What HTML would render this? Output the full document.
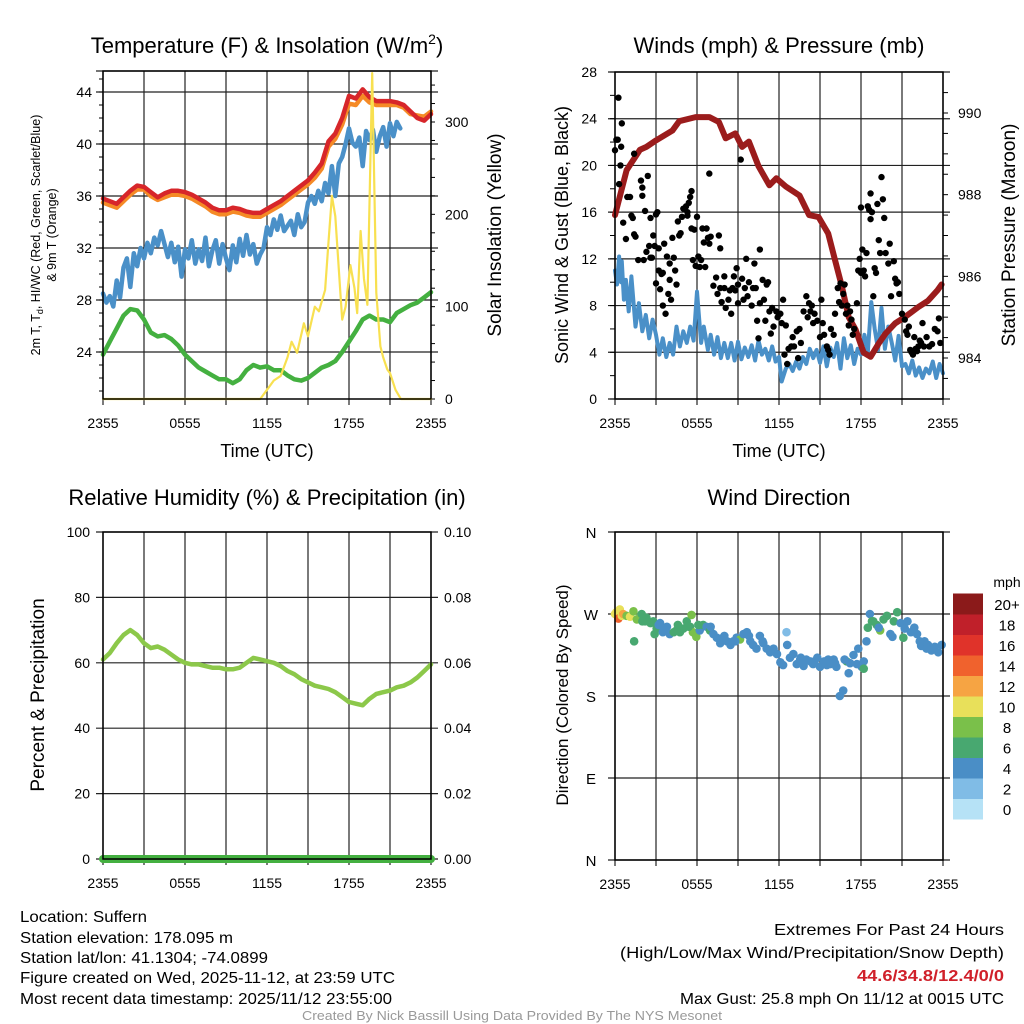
<!DOCTYPE html>
<html><head><meta charset="utf-8"><style>
body{margin:0;background:#fff;width:1024px;height:1024px;overflow:hidden}
svg{display:block;font-family:"Liberation Sans",sans-serif}
</style></head><body>
<svg id="chart" width="1024" height="1024" viewBox="0 0 1024 1024" xmlns="http://www.w3.org/2000/svg">
<text x="267" y="53" font-size="22" text-anchor="middle">Temperature (F) &amp; Insolation (W/m<tspan font-size="14" dy="-9">2</tspan><tspan dy="9">)</tspan></text>
<text x="779" y="53" font-size="22" text-anchor="middle">Winds (mph) &amp; Pressure (mb)</text>
<text x="267" y="505" font-size="22" text-anchor="middle">Relative Humidity (%) &amp; Precipitation (in)</text>
<text x="779" y="505" font-size="22" text-anchor="middle">Wind Direction</text>
<g id="plots"></g>
<g font-size="16">
<text x="20" y="922" textLength="127" lengthAdjust="spacingAndGlyphs">Location: Suffern</text>
<text x="20" y="943" textLength="213" lengthAdjust="spacingAndGlyphs">Station elevation: 178.095 m</text>
<text x="20" y="963" textLength="248" lengthAdjust="spacingAndGlyphs">Station lat/lon: 41.1304; -74.0899</text>
<text x="20" y="983" textLength="375" lengthAdjust="spacingAndGlyphs">Figure created on Wed, 2025-11-12, at 23:59 UTC</text>
<text x="20" y="1004" textLength="372" lengthAdjust="spacingAndGlyphs">Most recent data timestamp: 2025/11/12 23:55:00</text>
<text x="774" y="935" textLength="230" lengthAdjust="spacingAndGlyphs">Extremes For Past 24 Hours</text>
<text x="620" y="958" textLength="384" lengthAdjust="spacingAndGlyphs">(High/Low/Max Wind/Precipitation/Snow Depth)</text>
<text x="857" y="981" textLength="147" lengthAdjust="spacingAndGlyphs" fill="#d0202a" font-weight="bold">44.6/34.8/12.4/0/0</text>
<text x="680" y="1004" textLength="324" lengthAdjust="spacingAndGlyphs">Max Gust: 25.8 mph On 11/12 at 0015 UTC</text>
<text x="302" y="1020" textLength="420" lengthAdjust="spacingAndGlyphs" fill="#999" font-size="13">Created By Nick Bassill Using Data Provided By The NYS Mesonet</text>
</g>
</svg>
<script>
const xTickLabels=["2355","0555","1155","1755","2355"];
const hourTimes=[0,0.5,1,1.5,2,2.5,3,3.5,4,4.5,5,5.5,6,6.5,7,7.5,8,8.5,9,9.5,10,10.5,11,11.5,12,12.5,13,13.5,14,14.5,15,15.5,16,16.5,17,17.5,18,18.5,19,19.5,20,20.5,21,21.5,22,22.5,23,23.5,24];
const temp2m=[35.8,35.6,35.4,35.9,36.4,36.8,36.7,36.3,35.9,36.2,36.4,36.4,36.3,36.1,35.8,35.5,35.1,34.9,34.9,35.1,35.0,34.8,34.7,34.7,35.0,35.3,35.6,36.0,36.4,36.8,37.2,37.8,38.5,40.2,40.8,42.0,43.7,43.5,44.2,43.6,43.3,43.3,43.3,43.2,43.0,42.5,42.0,41.8,42.3];
const temp9m=[35.5,35.3,35.1,35.6,36.1,36.5,36.5,36.0,35.7,35.9,36.1,36.1,36.0,35.8,35.5,35.2,34.8,34.6,34.6,34.8,34.7,34.5,34.4,34.4,34.7,35.0,35.3,35.7,36.1,36.5,36.9,37.4,38.1,39.8,40.4,41.5,43.1,43.0,43.7,43.2,43.0,43.0,43.0,43.0,42.8,42.3,42.2,42.1,42.5];
const windChillTimes=[0,0.25,0.5,0.75,1,1.25,1.5,1.75,2,2.25,2.5,2.75,3,3.25,3.5,3.75,4,4.25,4.5,4.75,5,5.25,5.5,5.75,6,6.25,6.5,6.75,7,7.25,7.5,7.75,8,8.25,8.5,8.75,9,9.25,9.5,9.75,10,10.25,10.5,10.75,11,11.25,11.5,11.75,12,12.25,12.5,12.75,13,13.25,13.5,13.75,14,14.25,14.5,14.75,15,15.25,15.5,15.75,16,16.25,16.5,16.75,17,17.25,17.5,17.75,18,18.25,18.5,18.75,19,19.25,19.5,19.75,20,20.25,20.5,20.75,21,21.25,21.5,21.75];
const windChill=[28.5,27.8,28.3,27.5,29.5,28.2,30.5,31.2,29.0,31.6,30.6,32.0,31.2,32.4,31.6,32.8,32.2,33.3,32.3,31.3,32.4,30.9,32.1,29.8,31.9,31.2,32.6,30.8,31.9,31.0,32.8,30.6,31.8,32.6,30.8,32.3,31.2,30.3,32.2,30.9,32.7,31.4,33.0,31.5,32.3,30.8,31.5,32.0,33.6,33.0,34.2,33.4,34.5,33.3,33.7,34.1,33.0,34.6,33.6,34.0,35.5,36.0,35.4,36.4,35.6,37.0,36.2,38.3,36.0,38.5,39.0,40.0,41.2,40.1,39.8,40.5,38.3,41.0,40.3,41.1,39.4,40.6,41.3,39.8,41.6,40.6,41.7,41.2];
const dewPoint=[23.8,24.8,25.8,26.8,27.3,27.2,26.5,25.5,25.2,25.3,25.0,24.5,23.8,23.3,22.8,22.5,22.2,21.9,21.9,21.6,21.9,22.6,23.0,22.8,22.9,22.6,22.6,22.2,21.9,21.8,22.0,22.4,22.8,23.0,23.3,24.0,24.8,25.6,26.5,26.8,26.5,26.5,26.3,27.0,27.3,27.6,27.8,28.2,28.6];
const solarTimes=[0,11.5,12.0,12.5,13.0,13.5,13.8,14.2,14.7,15.0,15.5,15.8,16.25,16.5,16.75,17.0,17.4,17.5,17.75,18.1,18.4,18.6,18.85,19.1,19.35,19.7,20.0,20.3,20.5,20.8,21.0,21.4,21.8,24];
const solarVals=[0,0,10,20,25,45,62,50,82,68,100,95,118,170,220,198,108,86,100,145,120,93,182,130,102,353,115,57,45,32,28,10,0,0];
const windTimes=[0,0.15,0.3,0.45,0.5,0.65,0.8,1,1.2,1.5,1.75,2,2.25,2.5,2.75,3,3.25,3.5,3.75,4,4.25,4.5,4.75,5,5.25,5.5,5.75,6,6.3,6.5,6.8,7,7.25,7.5,7.75,8,8.25,8.5,8.75,9,9.25,9.5,9.75,10,10.25,10.5,10.75,11,11.25,11.5,11.75,12,12.2,12.5,12.75,13,13.25,13.5,13.75,14,14.25,14.5,14.75,15,15.25,15.5,15.75,16,16.25,16.5,16.75,17,17.25,17.5,17.75,18,18.25,18.5,18.75,19,19.25,19.5,19.75,20,20.25,20.5,20.75,21,21.25,21.5,21.75,22,22.25,22.5,22.75,23,23.25,23.5,23.75,24];
const windSpeed=[11,9.8,12.2,10,11.8,8.5,10.2,7.5,10.5,6.2,8.2,5.8,7.2,5.2,6.8,5.5,3.8,5.2,3.6,4.8,3.8,6.2,4.5,5.8,4.8,6.2,5.0,9.2,4.8,6.2,4.2,5.5,3.8,5.3,3.5,4.8,3.5,4.8,3.3,4.9,3.4,4.4,3.6,4.6,3.3,5.0,3.8,4.3,3.3,4.5,3.2,3.6,1.5,2.6,3.0,2.4,3.2,2.6,3.6,3.0,4.3,3.5,4.2,3.1,4.5,2.8,4.4,3.6,4.8,2.6,5.2,3.5,4.6,3.0,4.3,3.8,5.5,4.0,8.3,6.0,4.2,7.8,4.3,6.2,4.8,3.3,5.4,2.8,3.0,2.2,3.3,2.0,2.7,1.8,2.6,2.2,3.2,1.8,3.0,2.2];
const pressTimes=[0,0.85,1.83,2.3,3.0,4.2,4.7,5.9,6.9,7.6,8.1,8.8,9.3,9.8,10.5,11.3,11.8,12.5,13.5,14.2,14.9,15.6,16.1,16.6,17.1,17.6,18.2,18.7,19.3,19.8,20.5,21.2,22.2,22.9,23.6,23.9];
const pressure=[987.5,988.6,989.1,989.17,989.33,989.57,989.8,989.9,989.9,989.78,989.38,989.5,989.17,989.3,988.7,988.23,988.4,988.2,987.98,987.5,987.45,987.05,986.4,985.75,985.0,984.7,984.13,984.03,984.36,984.6,984.85,985.0,985.25,985.4,985.66,985.8];
const gustTimes=[0,0.1,0.2,0.25,0.3,0.4,0.45,0.5,0.6,0.8,0.9,1.1,1.2,1.3,1.4,1.5,1.4,1.7,1.9,2,2,2.1,2.2,2.3,2.4,2.5,2.6,2.6,2.7,2.8,2.9,3,3,3.1,3.2,3.2,3.3,3.4,3.5,3.5,3.6,3.7,3.8,3.9,4,4,4.1,4.2,4.3,4.4,4.5,4.6,4.7,4.8,4.9,5,5.1,5.2,5.3,5.3,5.4,5.5,5.6,5.6,5.7,5.8,5.9,6,6.1,6.2,6.3,6.4,6.5,6.6,6.7,6.8,6.9,6.9,7,7.2,7.4,7.5,7.6,7.7,7.7,7.8,8,8,8.1,8.3,8.4,8.5,8.6,8.7,8.8,8.9,9,9,9.2,9.3,9.4,9.5,9.6,9.7,9.8,10,10.1,10.2,10.3,10.4,10.5,10.6,10.6,10.8,10.9,11,11.1,11.2,11.3,11.4,11.5,11.6,11.8,11.9,12.1,12.2,12.3,12.4,12.5,12.6,12.7,12.9,13,13.1,13.3,13.4,13.5,13.6,13.8,14,14.1,14.2,14.3,14.4,14.5,14.6,14.8,15,15.1,15.2,15.3,15.5,15.6,15.7,15.8,16,16.1,16.3,16.4,16.5,16.6,16.7,16.8,16.9,17,17.1,17.2,17.3,17.4,17.5,17.7,17.8,17.9,18,18,18.1,18.2,18.3,18.4,18.5,18.6,18.7,18.7,18.8,18.9,19,19.1,19.2,19.3,19.4,19.5,19.6,19.7,19.8,20,20.1,20.2,20.4,20.5,20.6,20.7,20.8,21,21.2,21.3,21.4,21.5,21.6,21.7,21.8,21.9,22,22.1,22.2,22.3,22.4,22.5,22.6,22.8,23,23.2,23.4,23.6,23.7,23.8];
const gustSpeed=[21.3,22.2,22.2,25.8,18.4,20,21.6,23.6,15.1,13.7,17.3,17.3,15.7,15.5,14.1,13.9,21,11.9,18.7,18.1,17.4,11.9,16.1,12.6,19.1,13.1,12.1,15.5,12.1,14,13.1,15.8,9.9,16,12.9,11,9.4,10.7,8,10.8,13.3,7.3,12.2,9,10.2,11.6,8.5,13.8,12.1,11,9.8,15.2,14,14.2,15.6,16.3,16.3,16.5,15.7,16,16.8,17.3,14.6,17.8,11.9,14.5,11.4,15.6,12.2,11.3,11.9,14.6,13.4,11.3,14.6,13.8,19.3,13.3,13.9,9.7,10.4,9,14,9.5,12.9,8.3,10.5,9.5,7.8,8.5,9.3,7.3,9.5,10.5,9.3,11.2,9.8,8.2,20.5,10.3,8.5,9.5,12,8.8,10,8,9.5,11.6,9.5,6.7,5.2,8.2,12.8,10.2,8.5,6.7,9.8,10,7.5,5.6,7.8,6.2,7.5,7,7.3,6.5,8.5,3.8,6.3,3,4.3,4.5,5.3,4.5,5.8,3.5,6,4.8,7.5,8.8,7,8.2,7.5,8,6.5,7.3,6.7,5.3,8.5,6.5,5.5,4.5,4.2,3.8,6,5.5,7.3,9.5,8.3,9.9,8,9,9.8,7.3,8,6.3,7.5,6.8,5.5,6,8.2,11,12,10.8,16.4,12.8,11,10.5,12.5,16.5,16.2,15.4,17.6,16,8.8,11.2,10.8,16.7,13.6,12.5,19,17.1,15.5,12.5,11.6,13.3,8.8,11.8,10.3,9.9,10,9,7.3,6.8,5.8,5.5,6.2,4.2,4,3.8,5.3,4.3,4.1,4.5,5,4.8,6.5,4.5,5.3,4.5,4.7,6,5.8,6.9,4.8];
const rhVals=[61,63,66,68.5,70,68.5,66,64.5,65,64,62.5,61,60,59.5,59.5,59,58.5,58.5,58,58,58.5,60,61.5,61,60.5,60,59,57.5,56.5,55,54,53,52.5,52,51,49.5,48,47.5,47,49,50.5,51,51.5,52.5,53,54,55.5,57.5,59.5];
const precipVals=hourTimes.map(()=>0);
const dirTimes=[0,0.1,0.25,0.35,0.5,0.6,0.85,1.1,1.35,1.6,1.85,1.95,2.2,2.3,2.6,2.8,3.05,3.3,2.9,3.5,3.8,4.0,4.3,4.5,4.75,5.0,5.25,5.5,5.7,5.6,5.95,6.2,6.45,6.7,6.95,7.2,7.45,7.7,7.95,8.2,8.45,8.65,8.9,9.15,9.4,9.65,9.9,10.1,10.35,10.6,10.85,11.1,11.35,11.6,11.85,12.1,12.3,12.55,12.8,13.05,13.3,13.55,13.8,14.0,14.3,14.5,14.8,15.0,15.3,15.5,15.75,16.0,16.2,16.45,16.7,16.95,17.1,17.2,17.45,17.7,17.8,18.05,18.2,18.4,18.5,18.65,18.9,19.15,19.4,19.65,19.9,20.15,20.4,20.65,20.9,21.1,21.4,21.65,21.9,22.1,22.4,22.65,22.9,23.15,23.4,23.65,23.9,1.4,2.0,3.2,3.6,4.6,5.4,6.1,7.0,8.0,8.8,9.8,10.8,11.6,12.6,13.6,14.6,15.6,16.1,16.8,18.2,18.8,19.3,20.3,21.2,22.3,22.8];
const dirVals=[270,272,265,275,268,270,268,267,273,264,267,270,262,266,260,262,254,260,248,250,256,248,250,252,250,254,262,256,250,269,245,252,258,256,252,248,244,238,244,240,236,240,244,242,248,250,240,236,232,246,238,232,228,230,226,217,214,250,222,226,215,220,213,220,218,215,222,212,218,214,215,220,212,180,186,218,205,216,225,215,232,212,218,240,255,270,262,258,252,264,268,248,262,272,260,244,262,250,255,248,235,240,236,230,234,228,236,240,262,258,252,258,256,258,256,246,240,246,240,232,236,222,218,220,216,220,210,262,255,245,254,240,232,238];
const dirSpeeds=[9,10,13,10,9,12,8,10,7,7,7,6,6,6,6,6,6,3,5,4,4,4,6,6,6,6,6,6,7,7,7,4,6,4,6,4,4,3,4,4,4,4,4,7,4,4,4,3,3,4,4,3,4,4,4,4,3,1,3,3,3,3,3,4,4,3,3,4,4,3,4,3,3,4,4,6,3,4,4,4,3,4,3,4,6,4,6,6,8,6,6,4,6,6,4,6,4,4,4,3,3,3,3,3,3,3,3,6,6,4,4,6,6,6,4,4,4,4,4,3,3,3,3,4,4,4,6,6,4,4,3,3,3];
const speedColors=["#b6e2f6","#80bce6","#4a8ec6","#48a870","#7ac04a","#e8e05a","#f6a443","#f0622d","#e0332a","#c0202a","#8b1a1a"];
const speedLabels=["0","2","4","6","8","10","12","14","16","18","20+"];
const tempTicks=[24,28,32,36,40,44];
const solarTicks=[0,100,200,300];
const windTicks=[0,4,8,12,16,20,24,28];
const pressTicks=[984,986,988,990];
const rhTicks=[0,20,40,60,80,100];
const precipTicks=["0.00","0.02","0.04","0.06","0.08","0.10"];
const dirTicks=["N","E","S","W","N"];

const NS="http://www.w3.org/2000/svg";
const root=document.getElementById('plots');
function el(tag,attrs,parent,txt){const e=document.createElementNS(NS,tag);for(const k in attrs)e.setAttribute(k,attrs[k]);if(txt!==undefined)e.textContent=txt;(parent||root).appendChild(e);return e;}
function lin(d0,d1,r0,r1){return v=>r0+(v-d0)*(r1-r0)/(d1-d0);}
function pathD(xs,ys,fx,fy){return xs.map((t,i)=>(i?'L':'M')+fx(t).toFixed(1)+','+fy(ys[i]).toFixed(1)).join('');}

function panel(x0,x1,y0,y1,name){
  const g=el('g',{});
  
  
  const fx=lin(0,24,x0,x1);
  for(let h=0;h<=24;h+=3){
    const l=el('line',{x1:fx(h),x2:fx(h),y1:y0,y2:y1+6,stroke:'#222','stroke-width':1.2},g);
    
    
  }
  xTickLabels.forEach((s,i)=>{
    const t=el('text',{x:fx(i*6),y:y1+29,'font-size':14,'text-anchor':'middle'},g,s);
    
    
  });
  return {g,fx};
}
function hgrid(g,y,x0,x1){const l=el('line',{x1:x0-7,x2:x1+7,y1:y,y2:y,stroke:'#222','stroke-width':1.2},g);}
function label(g,x,y,s,anchor,size,name,rot){
  const a={x:x,y:y,'font-size':size,'text-anchor':anchor};
  if(rot)a.transform='rotate(-90 '+x+' '+y+')';
  const t=el('text',a,g,s);
  
  
  return t;
}
function line(g,d,color,w,name){const p=el('path',{d:d,fill:'none',stroke:color,'stroke-width':w,'stroke-linejoin':'round','stroke-linecap':'round'},g);return p;}
function box(g,x0,x1,y0,y1){const r=el('rect',{x:x0,y:y0,width:x1-x0,height:y1-y0,fill:'none',stroke:'#000','stroke-width':1.5},g);}

{const X0=103,X1=431,Y0=71,Y1=399;
 const {g,fx}=panel(X0,X1,Y0,Y1,'temperature-panel');
 const fy=lin(24,44,352,92), fs=lin(0,300,399,122);
 tempTicks.forEach(v=>{hgrid(g,fy(v),X0,X1);label(g,X0-11,fy(v)+5,String(v),'end',14,'temp-tick-label');});
 for(let v=21;v<=45;v++){const m=el('line',{x1:X0-4,x2:X0,y1:fy(v),y2:fy(v),stroke:'#000'},g);}
 for(let v=0;v<=350;v+=20){const m=el('line',{x1:X1,x2:X1+4,y1:fs(v),y2:fs(v),stroke:'#000'},g);}
 hgrid(g,Y0,X0,X1);
 solarTicks.forEach(v=>label(g,X1+14,fs(v)+5,String(v),'start',14,'solar-tick-label'));
 line(g,pathD(hourTimes,dewPoint,fx,fy),'#44b040',4.5,'dewpoint-line');
 line(g,pathD(windChillTimes,windChill,fx,fy),'#4a90c8',4.5,'windchill-line');
 line(g,pathD(hourTimes,temp9m,fx,fy),'#f58a26',4.5,'temp-9m-line');
 line(g,pathD(hourTimes,temp2m,fx,fy),'#d7262a',4.5,'temp-2m-line');
 line(g,pathD(solarTimes,solarVals,fx,fs),'#f8e050',2.2,'solar-line');
 box(g,X0,X1,Y0,Y1);
 label(g,267,457,'Time (UTC)','middle',18,'x-axis-title');
 label(g,501,235,'Solar Insolation (Yellow)','middle',19,'solar-axis-title',true);
 const t=label(g,40,235,'','middle',12.5,'temp-axis-title',true);
 t.innerHTML='2m T, T<tspan font-size="9" dy="3">d</tspan><tspan dy="-3">, HI/WC (Red, Green, Scarlet/Blue)</tspan>';
 label(g,56,235,'& 9m T (Orange)','middle',12.5,'temp-axis-title-2',true);
}
{const X0=615,X1=943,Y0=72,Y1=399;
 const {g,fx}=panel(X0,X1,Y0,Y1,'winds-panel');
 const fy=lin(0,28,399,72), fp=lin(984,990,358,113);
 windTicks.forEach(v=>{hgrid(g,fy(v),X0,X1);label(g,X0-18,fy(v)+5,String(v),'end',14,'wind-tick-label');});
 for(let v=0;v<=28;v+=2){const m=el('line',{x1:X0-5,x2:X0,y1:fy(v),y2:fy(v),stroke:'#000'},g);}
 for(let v=983.5;v<=990.5;v+=0.5){const m=el('line',{x1:X1,x2:X1+5,y1:fp(v),y2:fp(v),stroke:'#000'},g);}
 pressTicks.forEach(v=>label(g,X1+15,fp(v)+5,String(v),'start',14,'pressure-tick-label'));
 line(g,pathD(windTimes,windSpeed,fx,fy),'#4a90c8',4,'sonic-wind-line');
 line(g,pathD(pressTimes,pressure,fx,fp),'#9b1c1c',6,'pressure-line');
 gustTimes.forEach((t,i)=>{const c=el('circle',{cx:fx(t),cy:fy(gustSpeed[i]),r:3.2,fill:'#000'},g);});
 box(g,X0,X1,Y0,Y1);
 label(g,779,457,'Time (UTC)','middle',18,'x-axis-title');
 label(g,568,235,'Sonic Wind & Gust (Blue, Black)','middle',18,'wind-axis-title',true);
 label(g,1015,235,'Station Pressure (Maroon)','middle',19,'pressure-axis-title',true);
}
{const X0=103,X1=431,Y0=532,Y1=859;
 const {g,fx}=panel(X0,X1,Y0,Y1,'humidity-panel');
 const fy=lin(0,100,859,532), fq=lin(0,0.1,859,532);
 rhTicks.forEach((v,i)=>{hgrid(g,fy(v),X0,X1);label(g,X0-13,fy(v)+5,String(v),'end',14,'rh-tick-label');label(g,X1+13,fy(v)+5,precipTicks[i],'start',14,'precip-tick-label');});
 line(g,pathD(hourTimes,rhVals,fx,fy),'#8cc84a',4.5,'rh-line');
 line(g,pathD(hourTimes,precipVals,fx,fq),'#44b040',8,'precip-line');
 box(g,X0,X1,Y0,Y1);
 label(g,44,695,'Percent & Precipitation','middle',19,'rh-axis-title',true);
}
{const X0=615,X1=943,Y0=532,Y1=860;
 const {g,fx}=panel(X0,X1,Y0,Y1,'direction-panel');
 const fy=lin(0,360,860,532);
 dirTicks.forEach((s,i)=>{hgrid(g,fy(i*90),X0,X1);label(g,591,fy(i*90)+6,s,'middle',15,'direction-tick-label');});
 dirTimes.forEach((t,i)=>{const idx=Math.max(0,Math.min(10,Math.round(dirSpeeds[i]/2)));const c=el('circle',{cx:fx(t),cy:fy(dirVals[i]),r:4.3,fill:speedColors[idx]},g);});
 box(g,X0,X1,Y0,Y1);
 label(g,568,695,'Direction (Colored By Speed)','middle',17,'direction-axis-title',true);
 const bh=20.5;
 speedColors.forEach((c,i)=>{const y=819-(i+1)*bh;const r=el('rect',{x:953,y:y,width:30,height:bh+0.5,fill:c},g);label(g,1007,y+bh/2+6,speedLabels[i],'middle',15,'colorbar-label');});
 label(g,1007,587,'mph','middle',14,'colorbar-title');
}
</script>
</body></html>
